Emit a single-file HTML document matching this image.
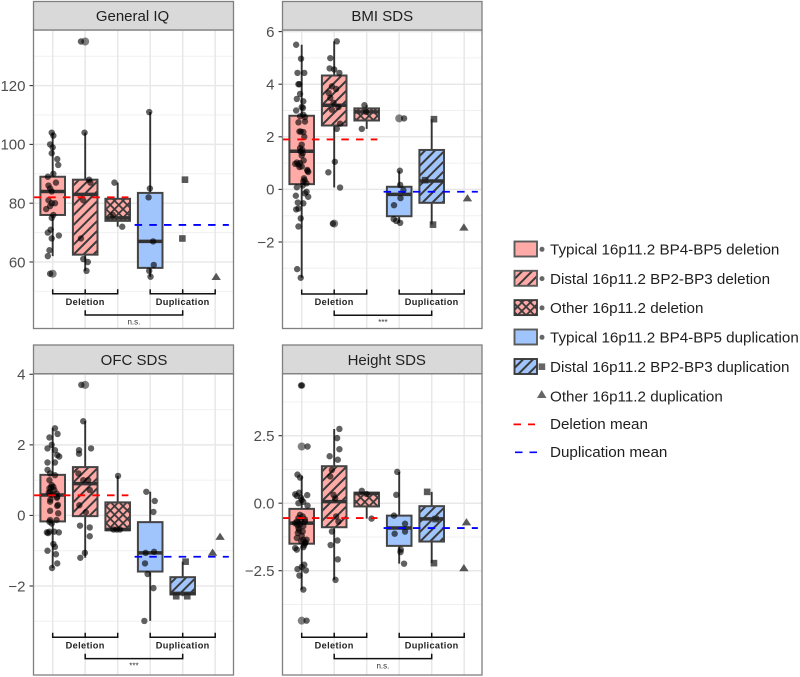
<!DOCTYPE html>
<html lang="en">
<head>
<meta charset="utf-8">
<title>16p11.2 phenotype box plots</title>
<style>
html,body{margin:0;padding:0;background:#fff;}
#chart{display:block;position:absolute;left:0;top:0;font-family:"Liberation Sans",sans-serif;}
</style>
</head>
<body>
<svg id="chart" xmlns="http://www.w3.org/2000/svg" width="800" height="677" viewBox="0 0 800 677">
<defs>
<pattern id="stripe-del" width="7" height="7" patternUnits="userSpaceOnUse" patternTransform="rotate(45)"><rect width="7" height="7" fill="#ffaaa6"/><rect width="2" height="7" fill="#3a3a3a"/></pattern>
<pattern id="stripe-dup" width="7" height="7" patternUnits="userSpaceOnUse" patternTransform="rotate(45)"><rect width="7" height="7" fill="#a0c5fc"/><rect width="2" height="7" fill="#3a3a3a"/></pattern>
<pattern id="cross-del" width="6" height="6" patternUnits="userSpaceOnUse" patternTransform="rotate(45)"><rect width="6" height="6" fill="#ffaaa6"/><rect width="1.8" height="6" fill="#3a3a3a"/><rect width="6" height="1.8" fill="#3a3a3a"/></pattern>
</defs>
<g id="panels"></g>
<g id="legend" font-size="15.2" fill="#1f1f1f">
<g><rect x="514.5" y="241.5" width="22.5" height="15" fill="#ffaaa6" stroke="#5a5a5a" stroke-width="1.9"/><circle cx="542" cy="249.3" r="2.5" fill="#666"/><text x="550" y="254.6">Typical 16p11.2 BP4-BP5 deletion</text></g>
<g><rect x="514.5" y="270.8" width="22.5" height="15" fill="url(#stripe-del)" stroke="#5a5a5a" stroke-width="1.9"/><circle cx="542" cy="278.6" r="2.5" fill="#666"/><text x="550" y="283.9">Distal 16p11.2 BP2-BP3 deletion</text></g>
<g><rect x="514.5" y="300.1" width="22.5" height="15" fill="url(#cross-del)" stroke="#3a3a3a" stroke-width="1.9"/><circle cx="542" cy="307.9" r="2.5" fill="#666"/><text x="550" y="313.2">Other 16p11.2 deletion</text></g>
<g><rect x="514.5" y="329.5" width="22.5" height="15" fill="#a0c5fc" stroke="#5a5a5a" stroke-width="1.9"/><circle cx="542" cy="337.3" r="2.5" fill="#666"/><text x="550" y="342.6">Typical 16p11.2 BP4-BP5 duplication</text></g>
<g><rect x="514.5" y="359" width="22.5" height="15" fill="url(#stripe-dup)" stroke="#3a3a3a" stroke-width="1.9"/><rect x="538.6" y="363.4" width="6.6" height="6.6" fill="#666"/><text x="550" y="372">Distal 16p11.2 BP2-BP3 duplication</text></g>
<g><path d="M537 398 L546.5 398 L541.7 390 Z" fill="#666"/><text x="550" y="401.3">Other 16p11.2 duplication</text></g>
<g><line x1="513.5" x2="535" y1="424.4" y2="424.4" stroke="#ff0000" stroke-width="1.7" stroke-dasharray="7.5 7"/><text x="550" y="429">Deletion mean</text></g>
<g><line x1="515" x2="537" y1="452.3" y2="452.3" stroke="#0000ff" stroke-width="1.7" stroke-dasharray="7.5 7"/><text x="550" y="457">Duplication mean</text></g>
</g>
</svg>
<script>
// Shared categories
const categories = ["Typical deletion", "Distal deletion", "Other deletion", "Typical duplication", "Distal duplication", "Other duplication"];
const groupLabels = ["Deletion", "Duplication"];

// General IQ
const iqTicks = [60, 80, 100, 120];
const iqTickLabels = ["60", "80", "100", "120"];
const iqQ1 = [76, 62.5, 74, 58, null, null];
const iqMedian = [84, 83, 75, 67, null, null];
const iqQ3 = [89, 88, 81.5, 83.5, null, null];
const iqLow = [62, 57, 72, 55, null, null];
const iqHigh = [104, 104, 87, 111, null, null];
const iqMeans = [82, 72.6];
const iqValues = [
  [104,103,100,99,97,95,93,90,89,87,86,85,84,81,80,80,79,78,76,75,71,70,69,68,64,62,56],
  [135,104,88,87,81,68,61,60,57],
  [87,76,72],
  [111,85,82,67,59,57,55],
  [88,68],
  [55]
];
const iqJitter = [
  [-.03,.02,-.08,0,-.03,.14,.17,.02,-.15,.1,-.13,-.08,-.03,-.13,.07,-.03,-.08,-.2,.02,-.03,-.06,-.15,.19,-.03,-.1,-.15,-.08],
  [-.13,-.02,.12,.16,-.06,-.13,-.06,.08,.04],
  [-.1,-.15,.14],
  [-.03,-.01,-.05,.09,.11,-.03,.01],
  [.07,-.01],
  [.03]
];
const iqOutliers = [[0, 56], [1, 135]];
const iqSignificance = "n.s.";

// BMI SDS
const bmiTicks = [-2, 0, 2, 4, 6];
const bmiTickLabels = ["\u22122", "0", "2", "4", "6"];
const bmiQ1 = [.2, 2.43, 2.62, -1.02, -.51, null];
const bmiMedian = [1.45, 3.2, 2.95, -.19, .32, null];
const bmiQ3 = [2.8, 4.33, 3.08, .1, 1.5, null];
const bmiLow = [-3.36, .07, 2.3, -1.27, -1.34, null];
const bmiHigh = [5.5, 5.63, 3.2, .71, 2.67, null];
const bmiMeans = [1.9, -.09];
const bmiValues = [
  [5.5,4.97,4.43,4.43,4,4,3.63,3.44,3.35,3.13,3,2.84,2.78,2.58,2.55,2.2,2.18,2,1.7,1.57,1.38,1.29,1.02,.97,1,.87,.74,.66,.42,.3,.23,.08,-.09,-.15,-.24,-.28,-.5,-.53,-.76,-.73,-1.1,-1.41,-3.03,-3.36,3.1,2.75,2.2,1.5,1.45,1.1,.95,.85,.7,.35,.15],
  [5.63,4.99,4.6,4.56,4.43,3.92,3.82,3.67,3.48,3.29,3.03,3.13,2.5,2.3,1.05,.65,.07,-1.3],
  [3.2,2.95,2.3],
  [2.7,.71,.17,-.03,-.33,-.6,-1.13,-1.2,-1.27],
  [2.67,.35,-1.34],
  [-.33,-1.44]
];
const bmiJitter = [
  [-.17,-.02,-.13,.08,-.07,-.1,-.05,-.15,.05,0,-.17,.05,-.05,.1,-.1,-.07,.05,.08,0,-.05,.03,0,-.15,-.2,-.05,0,.17,.2,.07,.05,.15,-.15,.15,.1,-.18,.2,-.12,.05,-.17,-.1,-.03,-.1,-.14,-.03,.04,.1,-.03,.02,-.04,.06,-.1,-.07,.18,.09,.03],
  [.08,-.12,-.14,0,.16,-.07,.06,-.17,-.12,-.02,-.07,.13,.18,.08,.02,-.18,.18,-.04],
  [-.07,-.02,-.15],
  [.15,.02,.03,.13,.04,-.16,-.17,-.09,.03],
  [.07,-.2,.04],
  [.1,-.01]
];
const bmiOutliers = [[1, -1.3], [3, 2.7]];
const bmiSignificance = "***";

// OFC SDS
const ofcTicks = [-2, 0, 2, 4];
const ofcTickLabels = ["\u22122", "0", "2", "4"];
const ofcQ1 = [-.17, -.02, -.42, -1.59, -2.24, null];
const ofcMedian = [.58, .9, -.4, -1.06, -2.21, null];
const ofcQ3 = [1.15, 1.37, .37, -.19, -1.75, null];
const ofcLow = [-1.49, -1.2, -.42, -2.99, -2.29, null];
const ofcHigh = [2.47, 2.67, 1.12, .67, -1.31, null];
const ofcMeans = [.57, -1.17];
const ofcValues = [
  [2.47,2.21,2.31,2,1.9,1.85,1.71,1.67,1.5,1.5,1.29,1.19,1.14,1,.86,.77,.81,.67,.62,.58,.53,.39,.27,.13,.06,-.13,-.23,-.13,-.46,-.48,-.46,-.48,-.81,-.89,-1,-1.1,-1.36,-1.49,.8,.72,.65,.5,.45,.3,-.18,-.5],
  [3.7,2.67,1.85,1.75,1.9,1.19,1,1,.72,.29,.09,-.29,-.34,-.59,-1.06,-1.2],
  [1.12,-.4,-.4,-.4],
  [.67,.41,.1,-1.06,-1.03,-1.36,-1.66,-2.06,-2.99],
  [-1.31,-2.29,-2.29],
  [-.6,-1.05]
];
const ofcJitter = [
  [.07,-.1,.15,-.03,-.16,.07,.14,.2,-.16,.07,-.16,-.08,.07,-.1,-.03,-.1,.02,-.08,.12,-.03,.14,-.08,.14,-.08,.17,-.08,-.03,.12,-.1,-.18,.05,.19,.02,.07,-.16,.1,.14,-.02,-.05,.05,-.12,.13,-.07,.16,-.1,-.14],
  [-.12,-.06,-.19,-.19,.18,-.21,-.06,.09,.14,-.18,.02,-.16,.14,.14,-.01,-.15],
  [.01,-.13,-.03,.07],
  [-.12,.14,.1,-.14,.12,-.16,-.08,.1,-.18],
  [.09,-.2,.14],
  [.15,-.08]
];
const ofcOutliers = [[1, 3.7]];
const ofcSignificance = "***";

// Height SDS
const heightTicks = [-2.5, 0, 2.5];
const heightTickLabels = ["\u22122.5", "0.0", "2.5"];
const heightQ1 = [-1.5, -.89, -.12, -1.58, -1.42, null];
const heightMedian = [-.74, .06, .36, -.92, -.58, null];
const heightQ3 = [-.21, 1.37, .39, -.46, -.11, null];
const heightLow = [-3.2, -2.84, -.57, -2.24, -2.22, null];
const heightHigh = [1, 2.75, .42, 1.16, .42, null];
const heightMeans = [-.55, -.92];
const heightValues = [
  [4.36,4.36,2.1,1.06,.95,.39,.33,.3,.27,.12,0,-.09,-.43,-.49,-.68,-.68,-.78,-.74,-.92,-1.05,-1.29,-1.35,-1.35,-1.48,-1.66,-1.72,-1.63,-2.28,-2.36,-2.44,-2.49,-2.68,-3.2,-4.35,.2,.05,-.55,-.6,-.62,-.8,-.85,-1,-1.1,-1.2,-1.4,-1.45,-1.55],
  [2.75,2.41,2,1.74,1.61,1.23,.99,.31,.18,-.49,-.68,-1.05,-1.38,-1.55,-2.08,-2.84],
  [.46,.34,-.57],
  [1.16,.31,-.46,-.76,-1.05,-1.13,-1.72,-1.81,-2.24],
  [.42,-.59,-2.22],
  [-.7,-2.4]
];
const heightJitter = [
  [-.02,.01,.18,-.13,-.05,-.08,-.2,.17,-.15,0,-.1,.18,-.05,.03,-.15,.1,-.05,-.2,-.1,.03,-.15,.15,.05,.1,-.2,-.15,.05,.08,0,-.13,.13,-.07,.05,.15,-.02,.05,-.1,.1,-.03,-.13,.05,-.08,-.12,0,-.02,.12,.08],
  [.16,.09,.16,-.14,.11,-.07,-.12,-.02,.03,.06,.13,-.07,.1,-.11,.11,.04],
  [-.15,0,.15],
  [-.06,-.09,-.16,.18,.18,-.14,.05,.04,.15],
  [-.14,.12,.07],
  [.07,-.01]
];
const heightOutliers = [[0, 2.1], [0, -4.35]];
const heightSignificance = "n.s.";

// Fill for each category
const categoryFills = ["#ffaaa6", "url(#stripe-del)", "url(#cross-del)", "#a0c5fc", "url(#stripe-dup)", "none"];

const panelsRoot = document.getElementById('panels');
const SVGNS = 'http://www.w3.org/2000/svg';

function make(tag, attrs, parent) {
  const el = document.createElementNS(SVGNS, tag);
  for (const k in attrs) el.setAttribute(k, attrs[k]);
  parent.appendChild(el);
  return el;
}

function linearScale(v0, p0, v1, p1) {
  return function (v) { return p0 + (v - v0) * (p1 - p0) / (v1 - v0); };
}

function drawPanel(cfg) {
  const g = make('g', {}, panelsRoot);
  
  

  const xScale = linearScale(0, cfg.x0, 1, cfg.x0 + 32.5);
  const yScale = linearScale(cfg.ticks[0], cfg.y0, cfg.ticks[cfg.ticks.length - 1], cfg.y1);
  const clipId = 'clip-' + cfg.slug;
  const cp = make('clipPath', { id: clipId }, g);
  make('rect', { x: cfg.left, y: cfg.stripBottom, width: cfg.right - cfg.left, height: cfg.bottom - cfg.stripBottom }, cp);

  const bg = make('rect', { x: cfg.left, y: cfg.stripBottom, width: cfg.right - cfg.left, height: cfg.bottom - cfg.stripBottom, fill: '#fff' }, g);
  
  

  // minor horizontal gridlines
  const step = cfg.ticks[1] - cfg.ticks[0];
  const minors = [cfg.ticks[0] - step / 2];
  cfg.ticks.forEach(function (t) { minors.push(t + step / 2); });
  minors.forEach(function (m) {
    const py = yScale(m);
    if (py <= cfg.stripBottom || py >= cfg.bottom) return;
    const l = make('line', { x1: cfg.left, x2: cfg.right, y1: py, y2: py, stroke: '#f0f0f0', 'stroke-width': 1 }, g);
    
    
  });
  // major horizontal gridlines, ticks and labels
  cfg.ticks.forEach(function (t, i) {
    const py = yScale(t);
    const l = make('line', { x1: cfg.left, x2: cfg.right, y1: py, y2: py, stroke: '#e8e8e8', 'stroke-width': 1.5 }, g);
    
    
    const tk = make('line', { x1: cfg.left - 4, x2: cfg.left, y1: py, y2: py, stroke: '#333', 'stroke-width': 1.1 }, g);
    
    
    const tl = make('text', { x: cfg.left - 8, y: py + 5.3, 'text-anchor': 'end', 'font-size': 15, fill: '#4d4d4d' }, g);
    
    
    tl.textContent = cfg.tickLabels[i];
  });
  // vertical gridlines
  categories.forEach(function (c, i) {
    const l = make('line', { x1: xScale(i), x2: xScale(i), y1: cfg.stripBottom, y2: cfg.bottom, stroke: '#e8e8e8', 'stroke-width': 1.5 }, g);
    
    
  });

  const marks = make('g', { 'clip-path': 'url(#' + clipId + ')' }, g);
  
  

  // box plots
  categories.forEach(function (c, i) {
    if (cfg.q1[i] === null) return;
    const cx = xScale(i);
    const bw = 24.6;
    const wh = make('line', { x1: cx, x2: cx, y1: yScale(cfg.high[i]), y2: yScale(cfg.low[i]), stroke: '#333', 'stroke-width': 1.9 }, marks);
    
    
    const box = make('rect', { x: cx - bw / 2, y: yScale(cfg.q3[i]), width: bw, height: yScale(cfg.q1[i]) - yScale(cfg.q3[i]), fill: categoryFills[i], stroke: '#444', 'stroke-width': 2 }, marks);
    
    
    const med = make('line', { x1: cx - bw / 2, x2: cx + bw / 2, y1: yScale(cfg.median[i]), y2: yScale(cfg.median[i]), stroke: '#333', 'stroke-width': 3.5 }, marks);
    
    
  });

  // large outlier dots
  cfg.outliers.forEach(function (o) {
    const c = make('circle', { cx: xScale(o[0]), cy: yScale(o[1]), r: 4, fill: '#333', 'fill-opacity': 0.62 }, marks);
    
    
  });

  // jittered individual points
  cfg.values.forEach(function (vals, i) {
    vals.forEach(function (v, j) {
      const px = xScale(i + cfg.jitter[i][j]);
      const py = yScale(v);
      let el;
      if (i === 4) {
        el = make('rect', { x: px - 3.3, y: py - 3.3, width: 6.6, height: 6.6, fill: '#222', 'fill-opacity': 0.75 }, marks);
      } else if (i === 5) {
        el = make('path', { d: 'M' + (px - 4.7) + ' ' + (py + 3.3) + 'L' + (px + 4.7) + ' ' + (py + 3.3) + 'L' + px + ' ' + (py - 4) + 'Z', fill: '#222', 'fill-opacity': 0.75 }, marks);
      } else {
        el = make('circle', { cx: px, cy: py, r: 3.2, fill: '#000', 'fill-opacity': 0.62 }, marks);
      }
      
      
    });
  });

  // group mean lines
  const delMean = make('line', { x1: xScale(-0.59), x2: xScale(2.33), y1: yScale(cfg.means[0]), y2: yScale(cfg.means[0]), stroke: '#ff0000', 'stroke-width': 1.8, 'stroke-dasharray': '7.5 7.2' }, marks);
  
  
  const dupMean = make('line', { x1: xScale(2.52), x2: xScale(5.42), y1: yScale(cfg.means[1]), y2: yScale(cfg.means[1]), stroke: '#0000ff', 'stroke-width': 1.8, 'stroke-dasharray': '7.5 7.2' }, marks);
  
  

  // group brackets
  [[0, 2, 1, 0], [3, 5, 4, 1]].forEach(function (b) {
    const path = 'M' + xScale(b[0]) + ' ' + (cfg.bracketY - 4.5) + 'V' + cfg.bracketY + 'H' + xScale(b[1]) + 'V' + (cfg.bracketY - 4.5) + 'M' + xScale(b[2]) + ' ' + (cfg.bracketY - 4.5) + 'V' + cfg.bracketY;
    const br = make('path', { d: path, fill: 'none', stroke: '#111', 'stroke-width': 1.5 }, g);
    
    
    const lb = make('text', { x: xScale(b[2]), y: cfg.bracketY + 11.2, 'text-anchor': 'middle', 'font-size': 9.2, 'font-weight': 'bold', 'letter-spacing': 0.35, fill: '#222' }, g);
    
    
    lb.textContent = groupLabels[b[3]];
  });
  const cmp = make('path', { d: 'M' + xScale(1) + ' ' + (cfg.bracketY + 16.5) + 'V' + (cfg.bracketY + 21.3) + 'H' + xScale(4) + 'V' + (cfg.bracketY + 16.5), fill: 'none', stroke: '#111', 'stroke-width': 1.5 }, g);
  
  
  const sig = make('text', { x: xScale(2.5), y: cfg.bracketY + 31, 'text-anchor': 'middle', 'font-size': 8, fill: '#333' }, g);
  
  
  sig.textContent = cfg.significance;

  // frame and strip
  const frame = make('rect', { x: cfg.left, y: cfg.stripBottom, width: cfg.right - cfg.left, height: cfg.bottom - cfg.stripBottom, fill: 'none', stroke: '#7f7f7f', 'stroke-width': 1.3 }, g);
  
  
  const strip = make('rect', { x: cfg.left, y: cfg.stripTop, width: cfg.right - cfg.left, height: cfg.stripBottom - cfg.stripTop, fill: '#d9d9d9', stroke: '#7f7f7f', 'stroke-width': 1.3 }, g);
  
  
  const title = make('text', { x: (cfg.left + cfg.right) / 2 + cfg.titleShift, y: cfg.stripBottom - 8.8, 'text-anchor': 'middle', 'font-size': 15, fill: '#1f1f1f' }, g);
  
  
  title.textContent = cfg.title;
}

drawPanel({
  slug: 'general-iq', title: 'General IQ', titleShift: -1,
  left: 33.5, right: 233.5, stripTop: 1.5, stripBottom: 30, bottom: 328.5, x0: 52.7,
  ticks: iqTicks, tickLabels: iqTickLabels, y0: 262, y1: 85.6, bracketY: 293.7,
  q1: iqQ1, median: iqMedian, q3: iqQ3, low: iqLow, high: iqHigh, means: iqMeans,
  values: iqValues, jitter: iqJitter, outliers: iqOutliers, significance: iqSignificance
});
drawPanel({
  slug: 'bmi-sds', title: 'BMI SDS', titleShift: 0,
  left: 282.5, right: 482, stripTop: 1.5, stripBottom: 30, bottom: 328.5, x0: 301.7,
  ticks: bmiTicks, tickLabels: bmiTickLabels, y0: 242, y1: 31.6, bracketY: 294,
  q1: bmiQ1, median: bmiMedian, q3: bmiQ3, low: bmiLow, high: bmiHigh, means: bmiMeans,
  values: bmiValues, jitter: bmiJitter, outliers: bmiOutliers, significance: bmiSignificance
});
drawPanel({
  slug: 'ofc-sds', title: 'OFC SDS', titleShift: 0.5,
  left: 33.5, right: 233.5, stripTop: 345, stripBottom: 373.7, bottom: 675, x0: 52.7,
  ticks: ofcTicks, tickLabels: ofcTickLabels, y0: 586, y1: 374.3, bracketY: 637.3,
  q1: ofcQ1, median: ofcMedian, q3: ofcQ3, low: ofcLow, high: ofcHigh, means: ofcMeans,
  values: ofcValues, jitter: ofcJitter, outliers: ofcOutliers, significance: ofcSignificance
});
drawPanel({
  slug: 'height-sds', title: 'Height SDS', titleShift: 4.5,
  left: 282.5, right: 482, stripTop: 345, stripBottom: 373.7, bottom: 675, x0: 301.7,
  ticks: heightTicks, tickLabels: heightTickLabels, y0: 570.7, y1: 435.7, bracketY: 637.3,
  q1: heightQ1, median: heightMedian, q3: heightQ3, low: heightLow, high: heightHigh, means: heightMeans,
  values: heightValues, jitter: heightJitter, outliers: heightOutliers, significance: heightSignificance
});
</script>
</body>
</html>
